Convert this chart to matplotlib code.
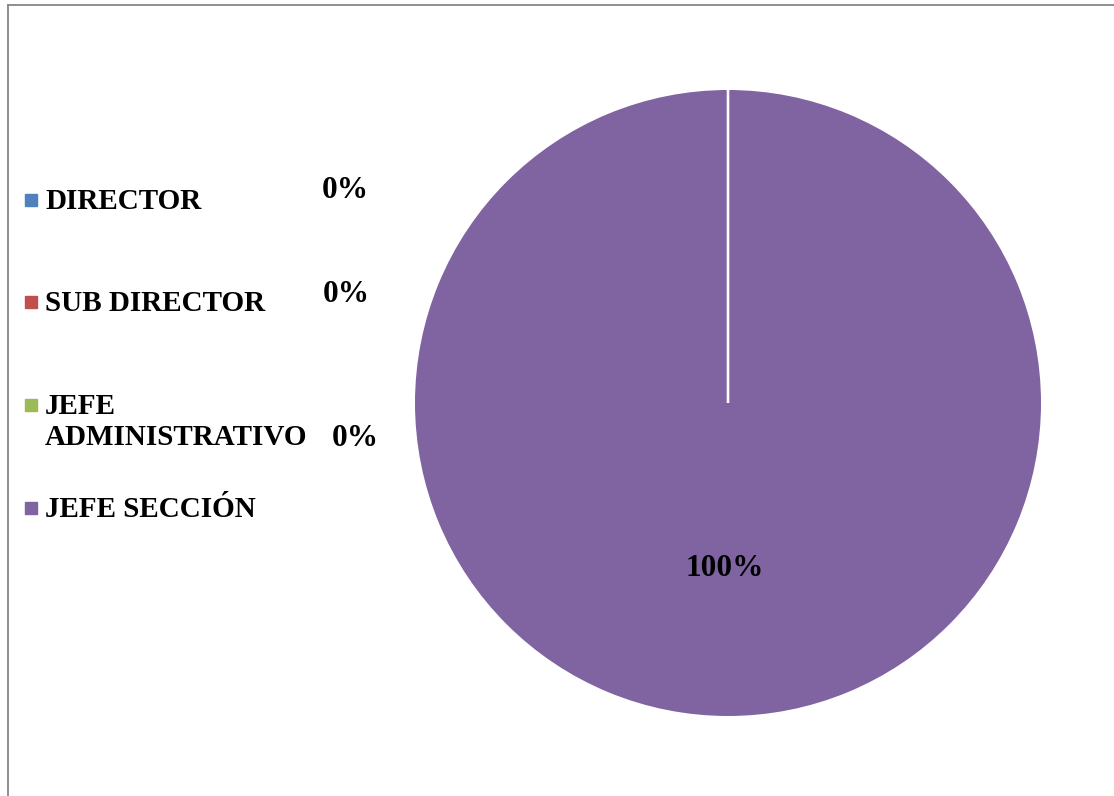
import matplotlib.pyplot as plt
from matplotlib.lines import Line2D

# Distribución por cargo
categorias = ['DIRECTOR', 'SUB DIRECTOR', 'JEFE\nADMINISTRATIVO', 'JEFE SECCIÓN']
porcentajes = [0, 0, 0, 100]
colores = ['#4F81BD', '#C0504D', '#9BBB59', '#8064A2']

plt.rcParams['font.family'] = ['Liberation Serif', 'DejaVu Serif']
plt.rcParams['font.weight'] = 'bold'

W, H = 1114, 796
fig = plt.figure(figsize=(W / 100, H / 100), dpi=100)

# pie axes: centre (728, 403), radius 313 px
cx, cy, r = 728, 403, 313
ax = fig.add_axes([(cx - r) / W, (H - cy - r) / H, 2 * r / W, 2 * r / H])
wedges, _ = ax.pie(porcentajes, colors=colores, startangle=90, counterclock=False,
                   wedgeprops=dict(edgecolor='none'))
for w, v in zip(wedges, porcentajes):
    if v == 0:
        # empty slices collapse into the white divider line at 12 o'clock
        w.set_edgecolor('white')
        w.set_linewidth(1.6)
        w.set_zorder(3)
ax.set_xlim(-1, 1)
ax.set_ylim(-1, 1)

# data labels (placed by hand like the original sheet)
label_pos = [(345, 191), (346, 294), (355, 439), (725, 568)]
for (px, py), v in zip(label_pos, porcentajes):
    fig.text(px / W, 1 - py / H, f'{v:.0f}%', fontsize=22.5, fontweight='bold',
             ha='center', va='center', color='black')

# legend on the left, one entry every ~103 px
entry_y = [200, 302, 405, 508]
for y, lab, col in zip(entry_y, categorias, colores):
    fig.add_artist(Line2D([31 / W], [1 - y / H], marker='s', markersize=9,
                          color=col, linestyle='none', transform=fig.transFigure))
    fig.text(45 / W, 1 - (y - 12) / H, lab, fontsize=21, fontweight='bold',
             ha='left', va='top', linespacing=1.18, color='black')

# chart area border (top and left edges visible)
fig.add_artist(Line2D([7.5 / W, 1], [1 - 5 / H, 1 - 5 / H], color='#868686', lw=1.3,
                      transform=fig.transFigure))
fig.add_artist(Line2D([7.5 / W, 7.5 / W], [0, 1 - 5 / H], color='#868686', lw=1.3,
                      transform=fig.transFigure))

fig.savefig('out.png', dpi=100)
